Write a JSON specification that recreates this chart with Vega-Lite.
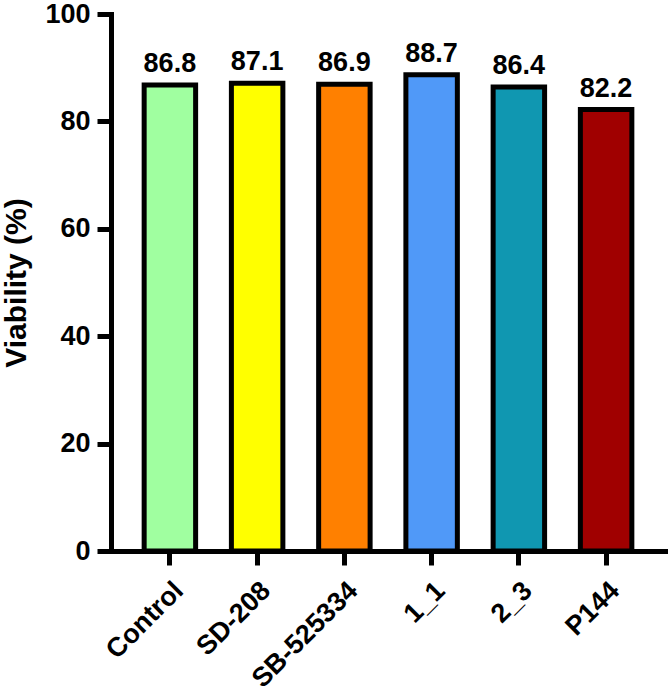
{
  "$schema": "https://vega.github.io/schema/vega-lite/v6.json",
  "autosize": {"type": "none"},
  "padding": {"left": 111, "top": 14, "right": 4, "bottom": 145},
  "width": 554,
  "height": 537,
  "background": "white",
  "config": {
    "view": {"stroke": null},
    "font": "Liberation Sans"
  },
  "data": {
    "values": [
      {"group": "Control", "viability": 86.8, "color": "#A0FFA0"},
      {"group": "SD-208", "viability": 87.1, "color": "#FFFF00"},
      {"group": "SB-525334", "viability": 86.9, "color": "#FF8000"},
      {"group": "1_1", "viability": 88.7, "color": "#5099F8"},
      {"group": "2_3", "viability": 86.4, "color": "#1097B1"},
      {"group": "P144", "viability": 82.2, "color": "#A00000"}
    ]
  },
  "encoding": {
    "x": {
      "field": "group",
      "type": "nominal",
      "sort": null,
      "scale": {"paddingInner": 0.41, "paddingOuter": 0.38},
      "axis": {
        "title": null,
        "labelAngle": -45,
        "labelFontSize": 27,
        "labelFontWeight": "bold",
        "labelColor": "black",
        "labelPadding": 12,
        "tickSize": 14,
        "tickWidth": 5,
        "tickColor": "black",
        "domainWidth": 5,
        "domainColor": "black",
        "domainCap": "square"
      }
    },
    "y": {
      "field": "viability",
      "type": "quantitative",
      "scale": {"domain": [0, 100], "nice": false},
      "axis": {
        "title": "Viability (%)",
        "titleFontSize": 30,
        "titleFontWeight": "bold",
        "titleColor": "black",
        "titlePadding": 13,
        "values": [0, 20, 40, 60, 80, 100],
        "grid": false,
        "labelFontSize": 27,
        "labelFontWeight": "bold",
        "labelColor": "black",
        "labelPadding": 7,
        "tickSize": 14,
        "tickWidth": 5,
        "tickColor": "black",
        "domainWidth": 5,
        "domainColor": "black",
        "domainCap": "square"
      }
    }
  },
  "layer": [
    {
      "mark": {"type": "bar", "stroke": "black", "strokeWidth": 5},
      "encoding": {
        "color": {"field": "color", "type": "nominal", "scale": null, "legend": null}
      }
    },
    {
      "mark": {"type": "text", "dy": -13, "baseline": "alphabetic", "fontSize": 27, "fontWeight": "bold", "color": "black"},
      "encoding": {
        "text": {"field": "viability", "type": "quantitative", "format": ".1f"}
      }
    }
  ]
}
